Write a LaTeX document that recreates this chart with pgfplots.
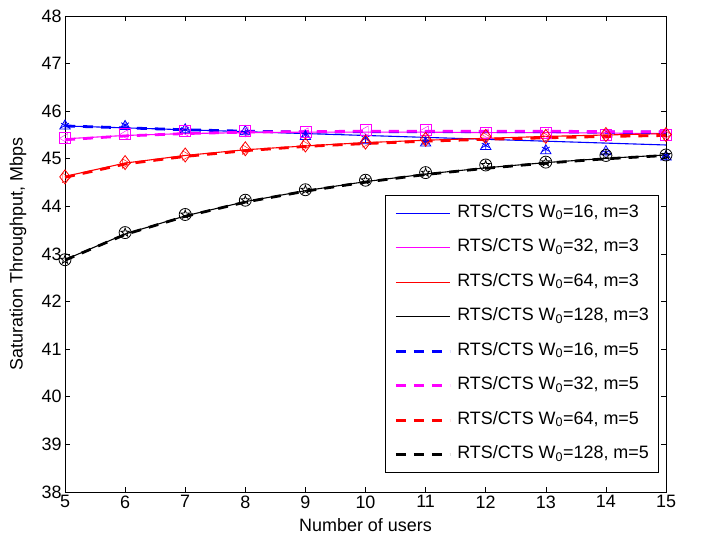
\documentclass[border=0pt]{standalone}
\usepackage{fontspec}
\setmainfont{Liberation Sans}
\usepackage{pgfplots}
\pgfplotsset{compat=1.18}
\definecolor{mblue}{rgb}{0,0,1}
\definecolor{mmag}{rgb}{1,0,1}
\definecolor{mred}{rgb}{1,0,0}
\definecolor{mblack}{rgb}{0,0,0}

% open five-pointed star (MATLAB 'p')
\pgfdeclareplotmark{pentagram}{%
  \pgfpathmoveto{\pgfqpointpolar{90}{\pgfplotmarksize}}%
  \pgfpathlineto{\pgfqpointpolar{126}{0.4\pgfplotmarksize}}%
  \pgfpathlineto{\pgfqpointpolar{162}{\pgfplotmarksize}}%
  \pgfpathlineto{\pgfqpointpolar{198}{0.4\pgfplotmarksize}}%
  \pgfpathlineto{\pgfqpointpolar{234}{\pgfplotmarksize}}%
  \pgfpathlineto{\pgfqpointpolar{270}{0.4\pgfplotmarksize}}%
  \pgfpathlineto{\pgfqpointpolar{306}{\pgfplotmarksize}}%
  \pgfpathlineto{\pgfqpointpolar{342}{0.4\pgfplotmarksize}}%
  \pgfpathlineto{\pgfqpointpolar{18}{\pgfplotmarksize}}%
  \pgfpathlineto{\pgfqpointpolar{54}{0.4\pgfplotmarksize}}%
  \pgfpathclose\pgfusepathqstroke}

\pgfplotsset{
  sim/.style={only marks,mark size=5.5bp,mark options={solid,line width=0.8bp,fill=none}},
}

\begin{document}
\begin{tikzpicture}
\path[use as bounding box] (-65bp,-46bp) rectangle (636bp,492bp);
\begin{axis}[
  scale only axis,width=601bp,height=476bp,
  xmin=5,xmax=15,ymin=38,ymax=48,
  xtick={5,6,...,15},ytick={38,39,...,48},
  tick align=inside,major tick length=5bp,
  axis line style={line width=0.6bp},
  every tick/.style={black,line width=0.6bp},
  font=\fontsize{18}{21}\selectfont,
  /pgf/number format/assume math mode=true,
  xlabel={Number of users},
  ylabel={Saturation Throughput, Mbps},
  xlabel style={at={(rel axis cs:0.5,0)},anchor=center,yshift=-33bp},
  ylabel style={at={(rel axis cs:0,0.5)},anchor=center,yshift=47bp},
  legend image code/.code={\draw[#1] (0bp,0bp) -- (54bp,0bp);},
  legend cell align=left,
  legend style={at={(rel axis cs:0.987,0.04)},anchor=south east,
    draw=black,line width=0.6bp,inner xsep=9bp,inner ysep=9bp,
    font=\fontsize{18}{21}\selectfont,
    nodes={inner sep=0pt,text height=13bp,text depth=5bp},
    /tikz/column sep=6bp,/tikz/row sep=16.5bp},
]
% legend: lines only
\addlegendimage{draw=mblue,line width=1.1bp}
\addlegendentry{RTS/CTS W\textsubscript{0}=16, m=3}
\addlegendimage{draw=mmag,line width=1.1bp}
\addlegendentry{RTS/CTS W\textsubscript{0}=32, m=3}
\addlegendimage{draw=mred,line width=1.1bp}
\addlegendentry{RTS/CTS W\textsubscript{0}=64, m=3}
\addlegendimage{draw=mblack,line width=1.1bp}
\addlegendentry{RTS/CTS W\textsubscript{0}=128, m=3}
\addlegendimage{draw=mblue,line width=2.8bp,dash pattern=on 10bp off 8bp}
\addlegendentry{RTS/CTS W\textsubscript{0}=16, m=5}
\addlegendimage{draw=mmag,line width=2.8bp,dash pattern=on 10bp off 8bp}
\addlegendentry{RTS/CTS W\textsubscript{0}=32, m=5}
\addlegendimage{draw=mred,line width=2.8bp,dash pattern=on 10bp off 8bp}
\addlegendentry{RTS/CTS W\textsubscript{0}=64, m=5}
\addlegendimage{draw=mblack,line width=2.8bp,dash pattern=on 10bp off 8bp}
\addlegendentry{RTS/CTS W\textsubscript{0}=128, m=5}
% analytical curves
\addplot[draw=mblue,line width=1.1bp,forget plot] coordinates {(5,45.69) (6,45.65) (7,45.61) (8,45.57) (9,45.53) (10,45.49) (11,45.45) (12,45.41) (13,45.37) (14,45.33) (15,45.29)};
\addplot[draw=mmag,line width=1.1bp,forget plot] coordinates {(5,45.42) (6,45.49) (7,45.53) (8,45.55) (9,45.56) (10,45.56) (11,45.56) (12,45.55) (13,45.55) (14,45.54) (15,45.53)};
\addplot[draw=mred,line width=1.1bp,forget plot] coordinates {(5,44.63) (6,44.91) (7,45.07) (8,45.19) (9,45.27) (10,45.34) (11,45.39) (12,45.43) (13,45.47) (14,45.50) (15,45.53)};
\addplot[draw=mblack,line width=1.1bp,forget plot] coordinates {(5,42.88) (6,43.42) (7,43.80) (8,44.10) (9,44.33) (10,44.52) (11,44.68) (12,44.81) (13,44.92) (14,45.01) (15,45.08)};
\addplot[draw=mblue,line width=2.8bp,dash pattern=on 10bp off 8bp,forget plot] coordinates {(5,45.69) (6,45.65) (7,45.61) (8,45.58) (9,45.56) (10,45.57) (11,45.57) (12,45.57) (13,45.57) (14,45.56) (15,45.56)};
\addplot[draw=mmag,line width=2.8bp,dash pattern=on 10bp off 8bp,forget plot] coordinates {(5,45.40) (6,45.48) (7,45.53) (8,45.56) (9,45.57) (10,45.58) (11,45.58) (12,45.58) (13,45.58) (14,45.57) (15,45.57)};
\addplot[draw=mred,line width=2.8bp,dash pattern=on 10bp off 8bp,forget plot] coordinates {(5,44.61) (6,44.89) (7,45.05) (8,45.17) (9,45.26) (10,45.32) (11,45.37) (12,45.41) (13,45.44) (14,45.47) (15,45.49)};
\addplot[draw=mblack,line width=2.8bp,dash pattern=on 10bp off 8bp,forget plot] coordinates {(5,42.87) (6,43.41) (7,43.79) (8,44.09) (9,44.32) (10,44.51) (11,44.67) (12,44.80) (13,44.91) (14,45.00) (15,45.07)};
% simulation points
\addplot[color=mblue,sim,mark=triangle,mark size=6bp,forget plot] coordinates {(5,45.69) (6,45.68) (7,45.61) (8,45.57) (9,45.47) (10,45.38) (11,45.33) (12,45.26) (13,45.17) (14,45.15) (15,45.04)};
\addplot[color=mblue,sim,mark=asterisk,mark size=4.5bp,forget plot] coordinates {(5,45.70) (6,45.71) (7,45.61) (8,45.55) (9,45.50) (10,45.43) (11,45.35) (12,45.28) (13,45.20) (14,45.13) (15,45.07)};
\addplot[color=mmag,sim,mark=square,forget plot] coordinates {(5,45.44) (6,45.52) (7,45.59) (8,45.58) (9,45.57) (10,45.61) (11,45.61) (12,45.55) (13,45.55) (14,45.51) (15,45.51)};
\addplot[color=mmag,sim,mark=triangle,mark size=5.5bp,mark options={rotate=90},forget plot] coordinates {(5,45.43) (6,45.51) (7,45.58) (8,45.57) (9,45.55) (10,45.59) (11,45.59) (12,45.53) (13,45.53) (14,45.50) (15,45.50)};
\addplot[color=mred,sim,mark=diamond,mark size=7bp,forget plot] coordinates {(5,44.62) (6,44.92) (7,45.08) (8,45.21) (9,45.29) (10,45.35) (11,45.41) (12,45.47) (13,45.47) (14,45.51) (15,45.51)};
\addplot[color=mred,sim,mark=triangle,mark size=5.5bp,mark options={rotate=-90},forget plot] coordinates {(5,44.60) (6,44.90) (7,45.07) (8,45.19) (9,45.28) (10,45.34) (11,45.40) (12,45.45) (13,45.45) (14,45.51) (15,45.51)};
\addplot[color=mblack,sim,mark=o,mark size=6bp,forget plot] coordinates {(5,42.88) (6,43.45) (7,43.83) (8,44.13) (9,44.35) (10,44.55) (11,44.71) (12,44.87) (13,44.93) (14,45.07) (15,45.08)};
\addplot[color=mblack,sim,mark=pentagram,mark size=4.5bp,forget plot] coordinates {(5,42.88) (6,43.45) (7,43.83) (8,44.13) (9,44.35) (10,44.55) (11,44.71) (12,44.87) (13,44.93) (14,45.07) (15,45.08)};
\end{axis}
\end{tikzpicture}
\end{document}
